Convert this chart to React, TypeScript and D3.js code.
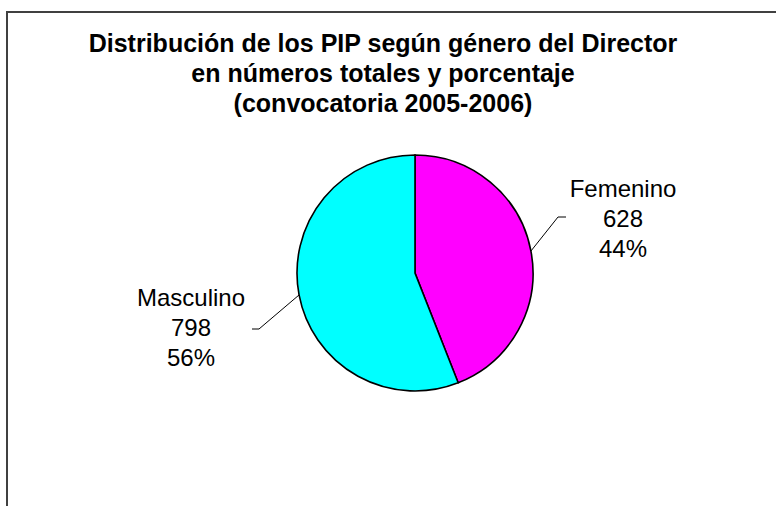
import React from "react";
import * as d3 from "d3";

const categories = ["Femenino", "Masculino"];
const values = [628, 798];
const percentLabels = ["44%", "56%"];
const colors = ["#FF00FF", "#00FFFF"];
const titleLines = [
  "Distribución de los PIP según género del Director",
  "en números totales y porcentaje",
  "(convocatoria 2005-2006)",
];

const W = 776;
const H = 506;
const cx = 415;
const cy = 273;
const R = 118;
// label layout: text centre x, first baseline y, elbow point, tail end
const labelLayout = [
  { tx: 623, ty: 197, elbow: [558, 217], tail: [566, 217] },
  { tx: 191, ty: 306, elbow: [259, 329], tail: [252, 329] },
];

export default function App() {
  const pie = d3.pie<number>().sort(null).value((d) => d)(values);
  const arc = d3.arc<d3.PieArcDatum<number>>().innerRadius(0).outerRadius(R);
  const font = "'Liberation Sans', Arial, sans-serif";
  return (
    <svg
      width={W}
      height={H}
      style={{ position: "absolute", left: 0, top: 0, background: "#fff" }}
    >
      <rect x={0} y={0} width={W} height={H} fill="#fff" />
      <rect x={7} y={12} width={900} height={700} fill="none" stroke="#404040" strokeWidth={2} />
      {titleLines.map((t, i) => (
        <text
          key={i}
          x={383}
          y={52 + i * 30}
          textAnchor="middle"
          fontFamily={font}
          fontWeight="bold"
          fontSize={25}
          fill="#000"
        >
          {t}
        </text>
      ))}
      <g transform={`translate(${cx},${cy})`}>
        {pie.map((p, i) => (
          <path key={i} d={arc(p) || ""} fill={colors[i]} stroke="#000" strokeWidth={1.6} />
        ))}
      </g>
      {pie.map((p, i) => {
        const a = (p.startAngle + p.endAngle) / 2;
        const ex = cx + R * Math.sin(a);
        const ey = cy - R * Math.cos(a);
        const L = labelLayout[i];
        return (
          <g key={i}>
            <polyline
              points={`${ex},${ey} ${L.elbow[0]},${L.elbow[1]} ${L.tail[0]},${L.tail[1]}`}
              fill="none"
              stroke="#000"
              strokeWidth={1}
            />
            {[categories[i], String(values[i]), percentLabels[i]].map((t, j) => (
              <text
                key={j}
                x={L.tx}
                y={L.ty + j * 30}
                textAnchor="middle"
                fontFamily={font}
                fontSize={24}
                fill="#000"
              >
                {t}
              </text>
            ))}
          </g>
        );
      })}
    </svg>
  );
}
